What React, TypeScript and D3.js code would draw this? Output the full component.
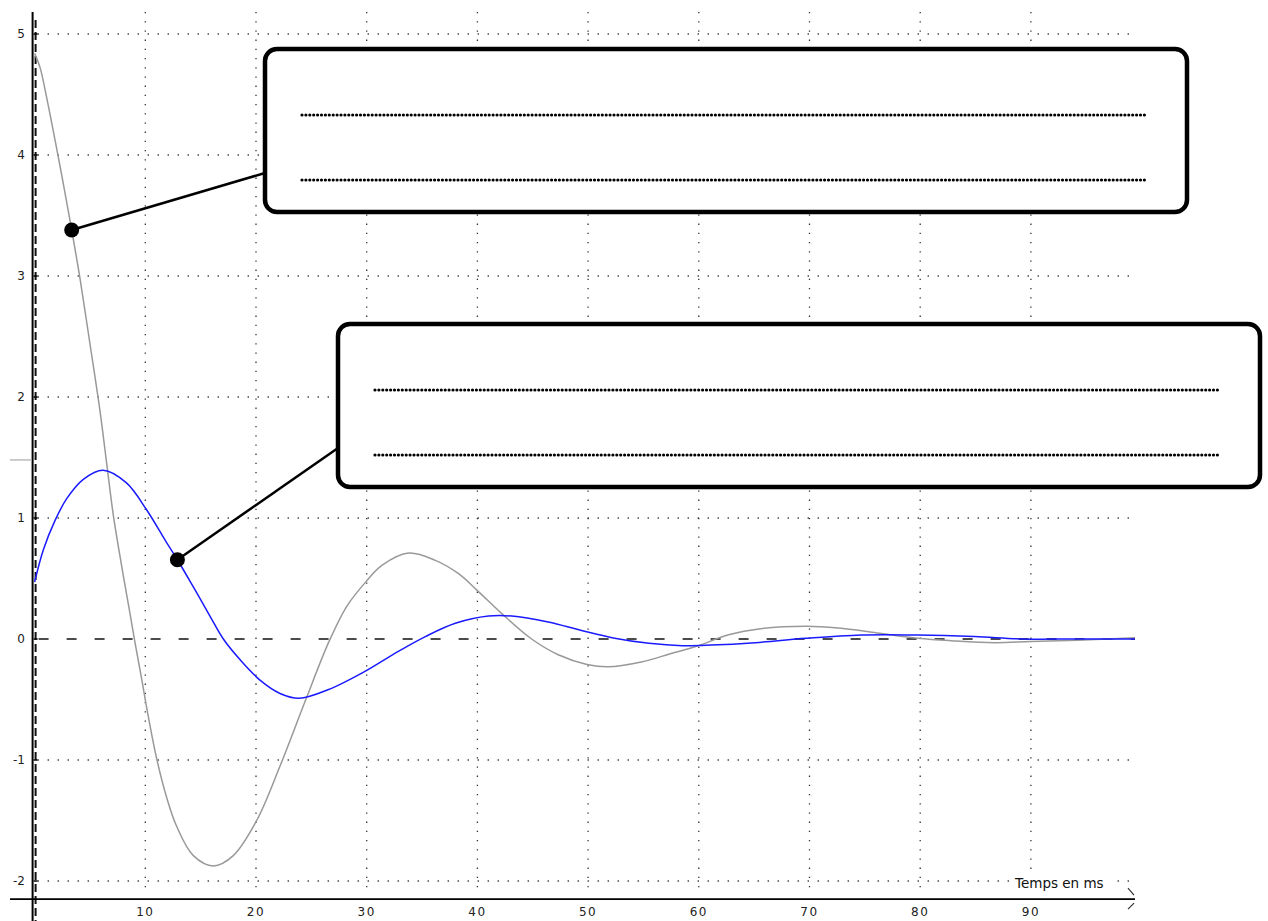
import React from "react";
import * as d3 from "d3";

// Time axis (ms) and sampled responses
const grayTime = [0, 0.5, 1.1, 2.0, 2.6, 3.35, 4.1, 5.0, 5.9, 6.5, 7.1, 7.87, 8.6, 9.07, 9.67, 10.27, 11.03, 11.93, 12.84, 14.34, 16.15, 17.95, 20.06, 22.17, 24.5, 26.6, 28.2, 29.9, 31.4, 33.8, 36.2, 38.3, 40, 42.2, 44.9, 47.3, 49.9, 51.8, 54.8, 57.5, 59.8, 62.7, 65.6, 69.7, 72.6, 76.1, 79.8, 82.8, 86.7, 90, 94.2, 99.4];
const grayValues = [4.84, 4.72, 4.47, 4.05, 3.76, 3.38, 2.98, 2.44, 1.89, 1.46, 1.03, 0.6, 0.22, -0.03, -0.33, -0.64, -0.99, -1.31, -1.55, -1.79, -1.875, -1.79, -1.5, -1.05, -0.5, -0.02, 0.27, 0.47, 0.61, 0.71, 0.65, 0.54, 0.4, 0.21, 0.0, -0.13, -0.21, -0.23, -0.19, -0.12, -0.06, 0.035, 0.085, 0.105, 0.09, 0.05, 0.006, -0.014, -0.03, -0.02, -0.01, 0.01];

const blueTime = [0, 0.8, 1.85, 2.9, 4.4, 6.2, 8.3, 10.1, 11.9, 12.9, 14.34, 15.84, 17.05, 18.55, 20.36, 22.17, 23.9, 26.5, 29.6, 32.9, 35.3, 38.0, 41.0, 43.1, 46.4, 49.4, 52.4, 55.5, 58.5, 61.1, 65.1, 69.7, 74.7, 79.8, 84.9, 89.3, 94, 99.4];
const blueValues = [0.47, 0.74, 0.98, 1.16, 1.32, 1.395, 1.29, 1.07, 0.8, 0.655, 0.43, 0.19, 0.0, -0.17, -0.34, -0.45, -0.49, -0.42, -0.28, -0.1, 0.02, 0.13, 0.19, 0.19, 0.14, 0.07, 0.006, -0.036, -0.055, -0.05, -0.03, 0.006, 0.033, 0.033, 0.02, 0.0, 0.0, 0.0];

const xTicks = [10, 20, 30, 40, 50, 60, 70, 80, 90];
const yTicks = [-2, -1, 0, 1, 2, 3, 4, 5];
const xLabel = "Temps en ms";
const cursorLevel = 1.48;

// Callout anchors: index into each series
const grayAnchor = 5;
const blueAnchor = 9;

const W = 1268;
const H = 921;

export default function App() {
  const x = d3.scaleLinear().domain([0, 100]).range([34.6, 34.6 + 1107]);
  const y = d3.scaleLinear().domain([-2, 5]).range([881, 34]);

  const line = d3
    .line<[number, number]>()
    .x((d) => x(d[0]))
    .y((d) => y(d[1]))
    .curve(d3.curveCatmullRom.alpha(0.5));

  const grayPts = grayTime.map((t, i) => [t, grayValues[i]] as [number, number]);
  const bluePts = blueTime.map((t, i) => [t, blueValues[i]] as [number, number]);

  const gridRight = 1135;
  const axisY = y(-2.15);
  const x0 = x(0);

  const ga = { cx: x(grayTime[grayAnchor]), cy: y(grayValues[grayAnchor]) };
  const ba = { cx: x(blueTime[blueAnchor]), cy: y(blueValues[blueAnchor]) };

  const box1 = { x: 265, y: 49, w: 922, h: 163 };
  const box2 = { x: 338, y: 324, w: 922, h: 163 };

  const font = "'DejaVu Sans', Verdana, sans-serif";

  return (
    <svg
      width={W}
      height={H}
      viewBox={`0 0 ${W} ${H}`}
      style={{ position: "absolute", left: 0, top: 0, display: "block", background: "#fff" }}
    >
      <rect x={0} y={0} width={W} height={H} fill="#fff" />

      {/* dotted grid (the zero row is drawn as a dashed reference line) */}
      <g stroke="#333" strokeWidth={1.3} fill="none">
        {yTicks
          .filter((v) => v !== 0)
          .map((v) => (
            <line key={"h" + v} x1={x0 + 3} x2={gridRight} y1={y(v)} y2={y(v)} strokeDasharray="1.3 8.7" />
          ))}
        {xTicks.map((t) => (
          <line key={"v" + t} x1={x(t)} x2={x(t)} y1={12} y2={893} strokeDasharray="1.3 7.9" />
        ))}
      </g>

      {/* zero reference line */}
      <line x1={x0 + 4} x2={gridRight} y1={y(0)} y2={y(0)} stroke="#111" strokeWidth={1.6} strokeDasharray="10 18" />

      {/* y axis: solid + dashed */}
      <line x1={x0 - 2} x2={x0 - 2} y1={12} y2={H} stroke="#000" strokeWidth={2} />
      <line x1={x0 + 1} x2={x0 + 1} y1={20} y2={H} stroke="#111" strokeWidth={2} strokeDasharray="8 4" />
      {yTicks.map((v) => (
        <g key={"yt" + v}>
          <line x1={x0 - 1} x2={x0 + 3} y1={y(v)} y2={y(v)} stroke="#000" strokeWidth={1.5} />
          <text x={25} y={y(v)} dy="0.35em" textAnchor="end" fontFamily={font} fontSize={12} fill="#222">
            {v}
          </text>
        </g>
      ))}

      {/* cursor marker on y axis */}
      <line x1={10} x2={x0 - 3} y1={y(cursorLevel)} y2={y(cursorLevel)} stroke="#bbb" strokeWidth={1.5} />

      {/* x axis */}
      <line x1={10} x2={gridRight} y1={axisY} y2={axisY} stroke="#000" strokeWidth={1.6} />
      <line x1={1128} y1={axisY - 11} x2={1134} y2={axisY - 4} stroke="#333" strokeWidth={1.2} />
      <line x1={1128} y1={axisY + 10} x2={1134} y2={axisY + 4} stroke="#333" strokeWidth={1.2} />
      {xTicks.map((t) => (
        <text key={"xt" + t} x={x(t)} y={axisY + 17} textAnchor="middle" fontFamily={font} fontSize={12} letterSpacing={1.5} fill="#222">
          {t}
        </text>
      ))}
      <rect x={1011} y={874} width={106} height={18} fill="#fff" />
      <text x={1015} y={888} fontFamily={font} fontSize={13.5} fill="#111">
        {xLabel}
      </text>

      {/* curves */}
      <path d={line(grayPts) ?? ""} fill="none" stroke="#999" strokeWidth={1.5} />
      <path d={line(bluePts) ?? ""} fill="none" stroke="#1a1aff" strokeWidth={1.5} />

      {/* callouts */}
      <line x1={ga.cx} y1={ga.cy} x2={box1.x} y2={173} stroke="#000" strokeWidth={2.5} />
      <circle cx={ga.cx} cy={ga.cy} r={7.5} fill="#000" />
      <line x1={ba.cx} y1={ba.cy} x2={box2.x} y2={448} stroke="#000" strokeWidth={2.5} />
      <circle cx={ba.cx} cy={ba.cy} r={7.5} fill="#000" />

      {[box1, box2].map((b, i) => (
        <g key={"box" + i}>
          <rect x={b.x} y={b.y} width={b.w} height={b.h} rx={12} ry={12} fill="#fff" stroke="#000" strokeWidth={4.5} />
          {[66, 131].map((dy) => (
            <line
              key={dy}
              x1={b.x + 37}
              x2={b.x + 881}
              y1={b.y + dy}
              y2={b.y + dy}
              stroke="#000"
              strokeWidth={3.2}
              strokeLinecap="round"
              strokeDasharray="0 3.9"
            />
          ))}
        </g>
      ))}
    </svg>
  );
}
